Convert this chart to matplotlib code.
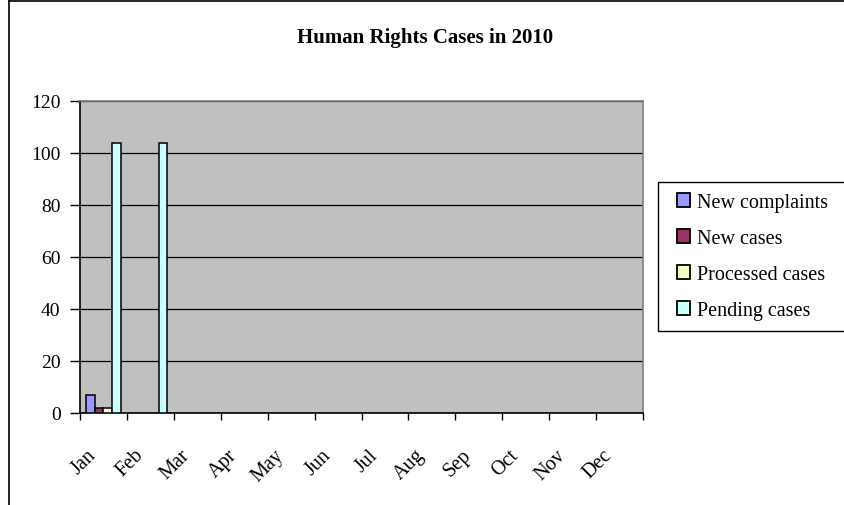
import numpy as np
import matplotlib
matplotlib.use("Agg")
from matplotlib import pyplot as plt
from matplotlib.lines import Line2D
from matplotlib.patches import Rectangle
from matplotlib.transforms import ScaledTranslation

plt.rcParams['font.family'] = ['Liberation Serif', 'DejaVu Serif']

months = ['Jan', 'Feb', 'Mar', 'Apr', 'May', 'Jun', 'Jul', 'Aug', 'Sep', 'Oct', 'Nov', 'Dec']
series_names = ['New complaints', 'New cases', 'Processed cases', 'Pending cases']
nan = np.nan
new_complaints = [7, nan, nan, nan, nan, nan, nan, nan, nan, nan, nan, nan]
new_cases = [2, nan, nan, nan, nan, nan, nan, nan, nan, nan, nan, nan]
processed_cases = [2, nan, nan, nan, nan, nan, nan, nan, nan, nan, nan, nan]
pending_cases = [104, 104, nan, nan, nan, nan, nan, nan, nan, nan, nan, nan]
colors = ['#9999FF', '#993366', '#FFFFCC', '#CCFFFF']

W, H = 845, 506
fig = plt.figure(figsize=(W / 100, H / 100), dpi=100)
# plot area in pixels: left 80, right 643, top 102, bottom 414
ax = fig.add_axes([80 / W, (H - 414) / H, 563 / W, 312 / H])
ax.set_facecolor('#C0C0C0')

allvals = [new_complaints, new_cases, processed_cases, pending_cases]
n = len(allvals)
w = 1 / (n + 1.5)   # excel style gap width 150%
x = np.arange(len(months))
for j, (vals, name, c) in enumerate(zip(allvals, series_names, colors)):
    ax.bar(x + 0.75 * w + j * w, vals, width=w, align='edge', color=c,
           edgecolor='black', linewidth=1.1, label=name, zorder=3)

ax.set_xlim(0, 12)
ax.set_ylim(0, 120)
ax.set_yticks(np.arange(0, 121, 20))
ax.yaxis.grid(True, color='black', linewidth=0.9, zorder=1)
ax.set_axisbelow(True)

ax.set_xticks(x + 0.5)
ax.set_xticklabels(months, rotation=45, ha='right', va='center', rotation_mode='anchor')
ax.set_xticks(np.arange(0, 13), minor=True)
ax.tick_params(axis='x', which='major', length=0, pad=28, labelsize=14.5)
ax.tick_params(axis='x', which='minor', length=5, width=1, direction='out')
ax.tick_params(axis='y', length=7.5, width=1, direction='out', labelsize=14, pad=6.5)
shift = ScaledTranslation(-10 / 100, 0, fig.dpi_scale_trans)
for lab in ax.get_xticklabels():
    lab.set_transform(lab.get_transform() + shift)

for s in ['top', 'right']:
    ax.spines[s].set_color('#808080')
    ax.spines[s].set_linewidth(1.2)
for s in ['left', 'bottom']:
    ax.spines[s].set_color('black')
    ax.spines[s].set_linewidth(1.2)

fig.text(425 / W, 1 - 38 / H, 'Human Rights Cases in 2010', ha='center', va='center',
         fontsize=15, fontweight='bold')

# legend box runs off the right edge in the original
box = Rectangle((658 / W, 1 - 332 / H), 200 / W, (332 - 183) / H, transform=fig.transFigure,
                facecolor='white', edgecolor='black', linewidth=1, zorder=4)
fig.add_artist(box)
handles, labels = ax.get_legend_handles_labels()
leg = fig.legend(handles, labels, loc='upper left', bbox_to_anchor=(677 / W, 1 - 194 / H),
                 fontsize=14.5, frameon=False, handlelength=0.67, handleheight=0.67,
                 handletextpad=0.3, labelspacing=0.85, borderpad=0, borderaxespad=0)
for hnd in leg.legend_handles:
    hnd.set_linewidth(1.3)

# chart area border (left and top edges visible)
fig.add_artist(Line2D([9.5 / W, 9.5 / W], [0, 1 - 1.5 / H], color='black', linewidth=1.2))
fig.add_artist(Line2D([9.5 / W, 1], [1 - 1.5 / H, 1 - 1.5 / H], color='black', linewidth=1.2))

fig.savefig('out.png', dpi=100)
